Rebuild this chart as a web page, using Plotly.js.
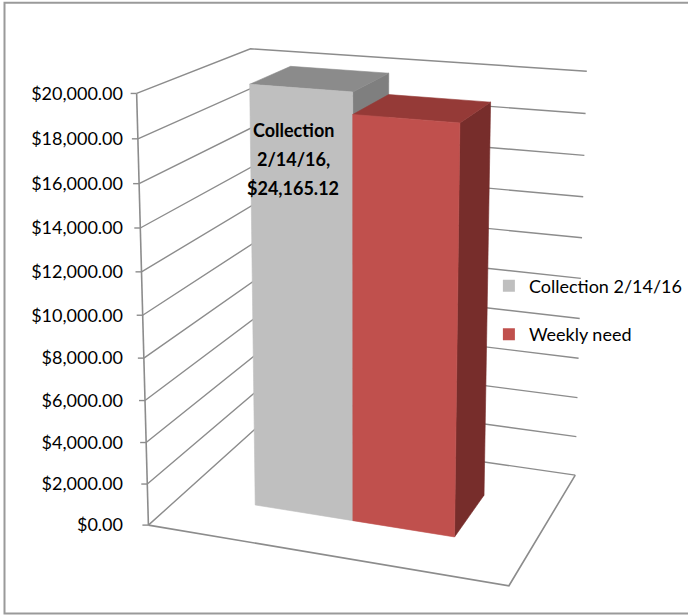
<!DOCTYPE html>
<html>
<head>
<meta charset="utf-8">
<script src="https://cdn.plot.ly/plotly-3.0.1.min.js"></script>
<style>
html,body{margin:0;padding:0;background:#fff;}
#chart{width:688px;height:615px;}
</style>
</head>
<body>
<div id="chart"></div>
<script>
// ---------------- data ----------------
const seriesNames = ["Collection 2/14/16", "Weekly need"];
const seriesValues = [24165.12, 19000];
const seriesColors = ["#BFBFBF", "#C0504D"];
const seriesTopColors = ["#8B8B8B", "#953A37"];
const seriesSideColors = ["#7F7F7F", "#772D2B"];
const zTickVals = [0, 2000, 4000, 6000, 8000, 10000, 12000, 14000, 16000, 18000, 20000];
const dataLabelLines = ["Collection", "2/14/16,", "$24,165.12"];

// ---------------- layout constants ----------------
const W = 688, H = 615;
const zMax = 20000;
const barStart = 0.218, barWidth = 0.287;    // along the category (x) direction, 0..1
const depthFront = 0.30, depthBack = 0.69;   // along the depth direction, 0..1
const gridGray = "#8C8C8C";
const FONT = "Lato, 'DejaVu Sans', sans-serif";

// Calibration of the 3-D frame (box corners -> pixels), used to build a perspective projection
// [X, D, Z(0..1), u, v]
const frameCalib = [
  [0, 0, 0,   148, 526],
  [0, 0, 0.5, 142.7, 315],
  [0, 0, 1,   137, 93.5],
  [1, 0, 0,   509, 585],
  [1, 1, 0,   575, 476],
  [1, 1, 1,   587, 71],
  [0, 1, 1,   250, 49],
  [0, 1, 0,   256, 428]
];

function fitProjection(pts) {
  const A = [], b = [];
  pts.forEach(([X, D, Z, u, v]) => {
    A.push([X, D, Z, 1, 0, 0, 0, 0, -u * X, -u * D, -u * Z]); b.push(u);
    A.push([0, 0, 0, 0, X, D, Z, 1, -v * X, -v * D, -v * Z]); b.push(v);
  });
  const n = 11;
  const M = [];
  for (let i = 0; i < n; i++) M.push(new Array(n + 1).fill(0));
  for (let r = 0; r < A.length; r++) {
    for (let i = 0; i < n; i++) {
      for (let j = 0; j < n; j++) M[i][j] += A[r][i] * A[r][j];
      M[i][n] += A[r][i] * b[r];
    }
  }
  for (let c = 0; c < n; c++) {
    let p = c;
    for (let r = c + 1; r < n; r++) if (Math.abs(M[r][c]) > Math.abs(M[p][c])) p = r;
    const t = M[c]; M[c] = M[p]; M[p] = t;
    for (let r = 0; r < n; r++) {
      if (r === c) continue;
      const f = M[r][c] / M[c][c];
      for (let j = c; j <= n; j++) M[r][j] -= f * M[c][j];
    }
  }
  const q = M.map((row, i) => row[n] / row[i]);
  return (X, D, z) => {
    const Z = z / zMax;
    const w = q[8] * X + q[9] * D + q[10] * Z + 1;
    return [(q[0] * X + q[1] * D + q[2] * Z + q[3]) / w,
            (q[4] * X + q[5] * D + q[6] * Z + q[7]) / w];
  };
}
const proj = fitProjection(frameCalib);

function polyline(points3d) {
  const xs = [], ys = [];
  points3d.forEach(p => {
    if (p === null) { xs.push(null); ys.push(null); return; }
    const [u, v] = proj(p[0], p[1], p[2]);
    xs.push(u); ys.push(v);
  });
  return {x: xs, y: ys};
}

const traces = [];

// walls: value gridlines on the side wall and the back wall
const gridPts = [];
zTickVals.forEach(z => { gridPts.push([0, 0, z], [0, 1, z], [1, 1, z], null); });
traces.push(Object.assign({type: "scatter", mode: "lines",
  line: {color: gridGray, width: 1.4}, hoverinfo: "skip", showlegend: false}, polyline(gridPts)));

// floor outline (front + right edges)
traces.push(Object.assign({type: "scatter", mode: "lines",
  line: {color: gridGray, width: 1.6}, hoverinfo: "skip", showlegend: false},
  polyline([[0, 0, 0], [1, 0, 0], [1, 1, 0]])));

// value axis line + tick marks on the front-left edge
traces.push(Object.assign({type: "scatter", mode: "lines",
  line: {color: gridGray, width: 1.6}, hoverinfo: "skip", showlegend: false},
  polyline([[0, 0, 0], [0, 0, zMax]])));
const tickX = [], tickY = [];
zTickVals.forEach(z => {
  const [u, v] = proj(0, 0, z);
  tickX.push(u - 6, u, null); tickY.push(v, v, null);
});
traces.push({type: "scatter", mode: "lines", x: tickX, y: tickY,
  line: {color: gridGray, width: 1.4}, hoverinfo: "skip", showlegend: false});

// bars (3-D columns), painted back to front
function face(pts, color) {
  const pl = polyline(pts.concat([pts[0]]));
  return Object.assign({type: "scatter", mode: "lines", fill: "toself",
    fillcolor: color, line: {color: color, width: 0.6},
    hoverinfo: "skip", showlegend: false}, pl);
}
seriesValues.forEach((val, s) => {
  const x0 = barStart + s * barWidth, x1 = x0 + barWidth;
  const zt = Math.min(val, zMax);          // column is clipped at the axis maximum
  const d0 = depthFront, d1 = depthBack;
  traces.push(face([[x1, d0, 0], [x1, d1, 0], [x1, d1, zt], [x1, d0, zt]], seriesSideColors[s]));
  traces.push(face([[x0, d0, zt], [x1, d0, zt], [x1, d1, zt], [x0, d1, zt]], seriesTopColors[s]));
  traces.push(face([[x0, d0, 0], [x1, d0, 0], [x1, d0, zt], [x0, d0, zt]], seriesColors[s]));
});

// legend entries
seriesNames.forEach((n, s) => {
  traces.push({type: "bar", x: [null], y: [null], name: n,
    marker: {color: seriesColors[s]}, legendgroup: "g" + s,
    hoverinfo: "skip", showlegend: true});
});

// y-axis tick positions follow the projected front edge
const tickPos = zTickVals.map(z => proj(0, 0, z)[1]);
const tickText = zTickVals.map(z => "$" + z.toLocaleString("en-US",
  {minimumFractionDigits: 2, maximumFractionDigits: 2}));

// data label inside the first column
const labelU = proj(barStart + barWidth / 2, depthFront, zMax * 0.8)[0] - 8;
const labelV = [130, 159, 188];
const annotations = dataLabelLines.map((t, i) => ({
  xref: "x", yref: "y", x: labelU, y: labelV[i],
  text: "<b>" + t + "</b>", showarrow: false,
  font: {family: FONT, size: 18, color: "#000"}
}));

const layout = {
  width: W, height: H,
  margin: {l: 0, r: 0, t: 0, b: 0},
  paper_bgcolor: "#ffffff",
  plot_bgcolor: "rgba(0,0,0,0)",
  font: {family: FONT, size: 18, color: "#000"},
  xaxis: {range: [0, W], domain: [0, 1], visible: false, fixedrange: true},
  yaxis: {
    range: [H, 0], domain: [0, 1], anchor: "free", position: 123 / W,
    tickvals: tickPos, ticktext: tickText, ticks: "",
    showgrid: false, zeroline: false, showline: false,
    tickfont: {family: FONT, size: 18, color: "#000"}, fixedrange: true
  },
  showlegend: true,
  legend: {
    x: 0.7106, y: 0.565, xanchor: "left", yanchor: "top",
    bgcolor: "rgba(0,0,0,0)", borderwidth: 0,
    font: {family: FONT, size: 18, color: "#000"},
    traceorder: "grouped", tracegroupgap: 22
  },
  annotations: annotations,
  shapes: [{
    type: "rect", xref: "paper", yref: "paper",
    x0: 4.5 / W, x1: 1.01, y0: 1.5 / H, y1: 1 - 2.7 / H,
    line: {color: "#9A9A9A", width: 2}, fillcolor: "rgba(0,0,0,0)"
  }]
};

Plotly.newPlot("chart", traces, layout, {displayModeBar: false, staticPlot: true});
</script>
</body>
</html>
